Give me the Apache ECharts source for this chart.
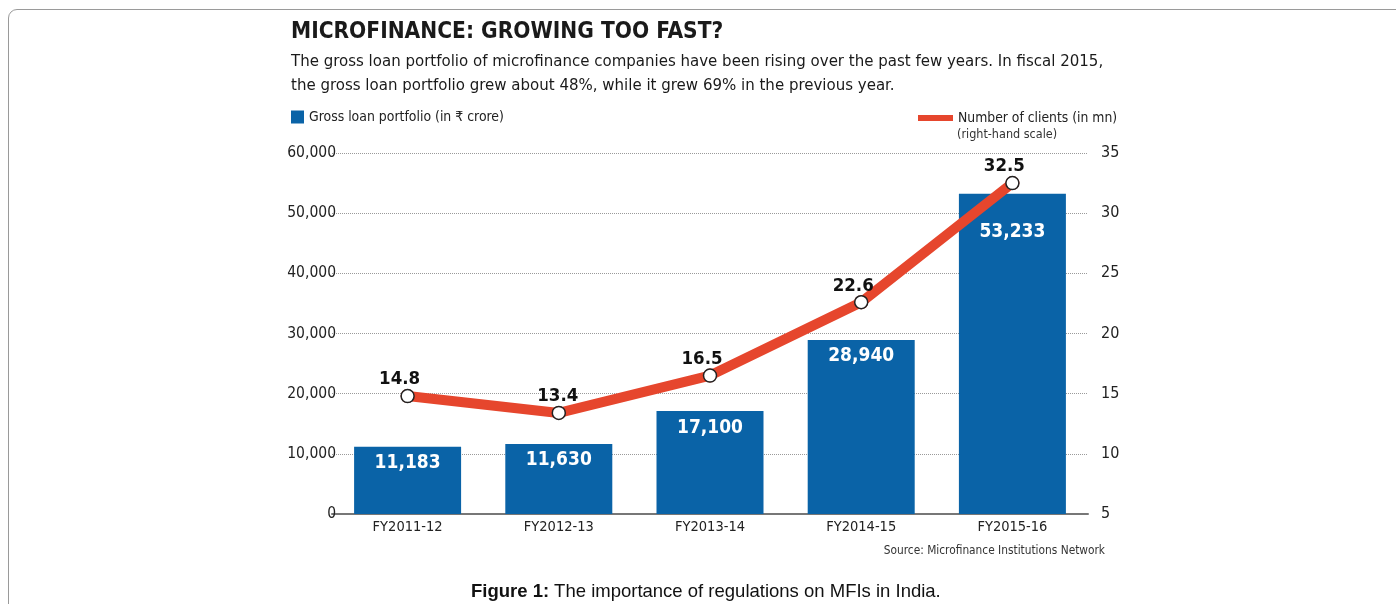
<!DOCTYPE html>
<html>
<head>
<meta charset="utf-8">
<script src="https://cdn.jsdelivr.net/npm/echarts@6/dist/echarts.min.js"></script>
<style>
html,body{margin:0;padding:0;background:#fff;overflow:hidden;}
#frame{position:absolute;left:8px;top:9px;width:1420px;height:640px;border:1.5px solid #9a9a9a;border-radius:9px;box-sizing:border-box;}
#chart{position:absolute;left:0;top:0;width:1396px;height:604px;}
</style>
</head>
<body>
<div id="frame"></div>
<div id="chart"></div>
<script>
const categories = ['FY2011-12', 'FY2012-13', 'FY2013-14', 'FY2014-15', 'FY2015-16'];
const loanPortfolio = [11183, 11630, 17100, 28940, 53233];
const clients = [14.8, 13.4, 16.5, 22.6, 32.5];
const leftTicks = [0, 10000, 20000, 30000, 40000, 50000, 60000];
const rightTicks = [5, 10, 15, 20, 25, 30, 35];

const NARROW = '"Liberation Sans Narrow", "DejaVu Sans Condensed", "Roboto Condensed", "Noto Sans", sans-serif';
const chart = echarts.init(document.getElementById('chart'), null, {renderer: 'canvas'});

const barData = loanPortfolio.map((v, i) => i === loanPortfolio.length - 1
  ? {value: v, label: {offset: [0, 22]}} : v);
const lineData = clients.map((v, i) => i === 1 ? {value: v, label: {offset: [-1, 0]}} : v);

chart.setOption({
  backgroundColor: 'transparent',
  animation: false,
  title: [
    {text: 'MICROFINANCE: GROWING TOO FAST?', left: 286, top: 16,
     textStyle: {fontFamily: NARROW, fontWeight: 'bold', fontSize: 22.5, color: '#1a1a1a'}},
    {text: 'The gross loan portfolio of microfinance companies have been rising over the past few years. In fiscal 2015,\nthe gross loan portfolio grew about 48%, while it grew 69% in the previous year.',
     left: 286, top: 45,
     textStyle: {fontFamily: NARROW, fontWeight: 'normal', fontSize: 16.7, lineHeight: 24, color: '#1a1a1a'}},
    {text: '(right-hand scale)', left: 952, top: 123,
     textStyle: {fontFamily: NARROW, fontWeight: 'normal', fontSize: 12.5, color: '#333'}},
    {text: 'Source: Microfinance Institutions Network', right: 286, top: 540,
     textStyle: {fontFamily: NARROW, fontWeight: 'normal', fontSize: 11.8, color: '#333'}},
    {text: '{b|Figure 1:} {n|The importance of regulations on MFIs in India.}', left: 466, top: 577,
     textStyle: {rich: {
       b: {fontFamily: '"Liberation Sans", Arial, sans-serif', fontWeight: 'bold', fontSize: 18.5, color: '#111'},
       n: {fontFamily: '"Liberation Sans", Arial, sans-serif', fontWeight: 'normal', fontSize: 18.5, color: '#111'}
     }}}
  ],
  legend: [
    {data: ['Gross loan portfolio (in ₹ crore)'], left: 286, top: 105, icon: 'rect',
     itemWidth: 13, itemHeight: 13, itemGap: 8,
     textStyle: {fontFamily: NARROW, fontSize: 13.9, color: '#222'}},
    {data: ['Number of clients (in mn)'], left: 913, top: 106, icon: 'rect',
     itemWidth: 35, itemHeight: 6, itemGap: 2,
     textStyle: {fontFamily: NARROW, fontSize: 13.8, color: '#222'}}
  ],
  grid: {left: 332, right: 308, top: 153, bottom: 90, containLabel: false},
  xAxis: {
    type: 'category', data: categories, boundaryGap: true,
    axisLine: {lineStyle: {color: '#777', width: 2}},
    axisTick: {show: false},
    axisLabel: {fontFamily: NARROW, fontSize: 14.5, color: '#222', margin: 6}
  },
  yAxis: [
    {type: 'value', min: leftTicks[0], max: leftTicks[leftTicks.length - 1], interval: 10000,
     offset: -10,
     axisLine: {show: false}, axisTick: {show: false},
     axisLabel: {fontFamily: NARROW, fontSize: 15.5, color: '#222', margin: 6,
       formatter: v => v.toLocaleString('en-US')},
     splitLine: {lineStyle: {type: 'dotted', color: '#9a9a9a', width: 1}}},
    {type: 'value', min: rightTicks[0], max: rightTicks[rightTicks.length - 1], interval: 5,
     position: 'right',
     axisLine: {show: false}, axisTick: {show: false},
     axisLabel: {fontFamily: NARROW, fontSize: 16, color: '#222', margin: 13},
     splitLine: {show: false}}
  ],
  series: [
    {name: 'Gross loan portfolio (in ₹ crore)', type: 'bar', data: barData, barWidth: 107,
     yAxisIndex: 0, itemStyle: {color: '#0a63a7'},
     label: {show: true, position: 'insideTop', distance: 7,
       fontFamily: NARROW, fontWeight: 'bold', fontSize: 19, color: '#fff',
       formatter: p => p.value.toLocaleString('en-US')}},
    {name: 'Number of clients (in mn)', type: 'line', data: lineData, yAxisIndex: 1,
     lineStyle: {color: '#e6462d', width: 10},
     itemStyle: {color: '#e6462d'},
     symbol: 'circle', symbolSize: 14,
     emphasis: {disabled: true},
     z: 5,
     label: {show: true, position: 'top', distance: 0, offset: [-8, 0],
       fontFamily: NARROW, fontWeight: 'bold', fontSize: 18.5, color: '#111'}},
    {name: 'markers', type: 'line', data: clients, yAxisIndex: 1,
     lineStyle: {width: 0, opacity: 0}, symbol: 'circle', symbolSize: 13,
     itemStyle: {color: '#fff', borderColor: '#222', borderWidth: 1.5},
     emphasis: {disabled: true}, z: 6, silent: true}
  ]
});
</script>
</body>
</html>
